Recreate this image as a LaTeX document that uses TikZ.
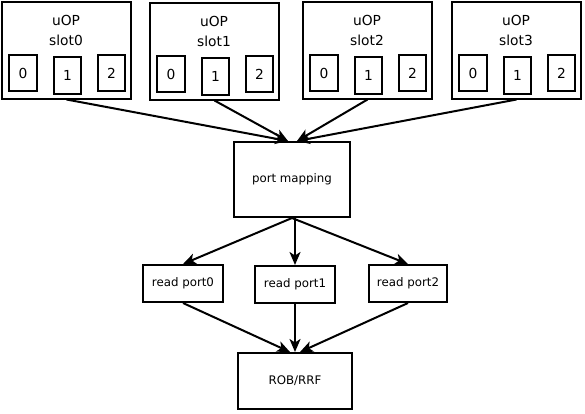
\documentclass[tikz,border=0pt]{standalone}
\usepackage{fontspec}
\setmainfont{DejaVu Sans}
\usetikzlibrary{arrows.meta}
\begin{document}
\begin{tikzpicture}[x=1pt,y=-1pt,
  box/.style={draw, rectangle, inner sep=0pt, line width=2pt},
  lbl/.style={font=\fontsize{11.8}{13}\selectfont},
  slbl/.style={font=\fontsize{13.8}{15}\selectfont, inner sep=0pt},
  arr/.style={-{Stealth[length=13pt,width=11pt,inset=3.5pt]}, line width=2pt},
]
\useasboundingbox (0,0) rectangle (585,413);
\foreach \i/\L/\T in {0/1/1,1/149/2,2/302/1,3/451/1} {
  \node[box, minimum width=129pt, minimum height=97pt] (s\i) at (\L+65.5,\T+49) {};
  \node[slbl] (s\i t1) at (\L+65,\T+19) {uOP};
  \node[slbl] (s\i t2) at (\L+65,\T+39) {slot\i};
  \node[box, slbl, minimum width=28pt, minimum height=36pt] (s\i a) at (\L+22,\T+72) {0};
  \node[box, slbl, minimum width=27pt, minimum height=37pt] (s\i b) at (\L+66.5,\T+74.5) {1};
  \node[box, slbl, minimum width=27pt, minimum height=36pt] (s\i c) at (\L+110.5,\T+72) {2};
}
\node[box, lbl, minimum width=116pt, minimum height=75pt] (pm) at (292,179.5) {port mapping};
\node[box, lbl, minimum width=80pt, minimum height=37pt] (rp0) at (183,283.5) {read port0};
\node[box, lbl, minimum width=80pt, minimum height=37pt] (rp1) at (295,284.5) {read port1};
\node[box, lbl, minimum width=78pt, minimum height=37pt] (rp2) at (408,283.5) {read port2};
\node[box, lbl, minimum width=114pt, minimum height=56pt] (rob) at (295,381) {ROB/RRF};
\draw[arr] (s0.south) -- ([xshift=-4pt]pm.north);
\draw[arr] (s1.south) -- ([xshift=-4pt]pm.north);
\draw[arr] (s2.south) -- ([xshift=5pt]pm.north);
\draw[arr] (s3.south) -- ([xshift=5pt]pm.north);
\draw[arr] (pm.south) -- (rp0.north);
\draw[arr] ([xshift=3pt]pm.south) -- (rp1.north);
\draw[arr] (pm.south) -- (rp2.north);
\draw[arr] (rp0.south) -- ([xshift=-5pt]rob.north);
\draw[arr] (rp1.south) -- (rob.north);
\draw[arr] (rp2.south) -- ([xshift=5pt]rob.north);
\end{tikzpicture}
\end{document}
